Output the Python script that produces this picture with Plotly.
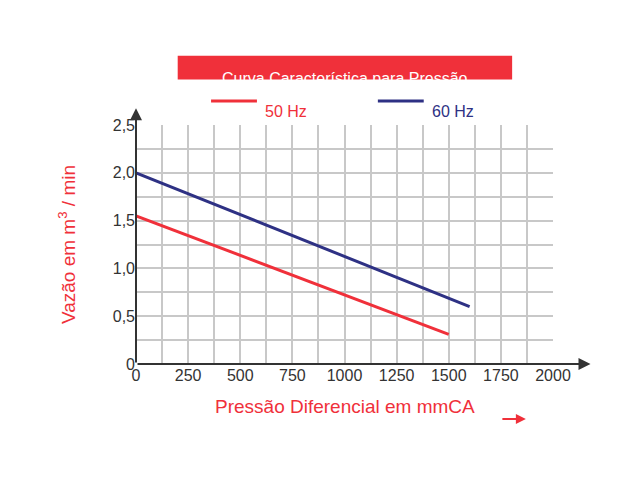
import plotly.graph_objects as go

x50 = [0, 1500]
y50 = [1.55, 0.31]
x60 = [0, 1600]
y60 = [2.0, 0.6]
xticks = [0, 250, 500, 750, 1000, 1250, 1500, 1750, 2000]
yticks = [0, 0.5, 1.0, 1.5, 2.0, 2.5]
ylabels = ["0", "0,5", "1,0", "1,5", "2,0", "2,5"]

RED = "#f0303a"
BLUE = "#2e3184"

fig = go.Figure()
fig.add_trace(go.Scatter(x=x50, y=y50, mode="lines", line=dict(color=RED, width=3), name="50 Hz"))
fig.add_trace(go.Scatter(x=x60, y=y60, mode="lines", line=dict(color=BLUE, width=3), name="60 Hz"))

grid = "#c8c8c8"
fig.update_layout(
    width=640, height=480, paper_bgcolor="white", plot_bgcolor="white",
    margin=dict(l=128, r=95, t=117, b=124),
    font=dict(family="Liberation Sans, Arial", size=16, color="#333"),
    showlegend=False,
    xaxis=dict(range=[0, 2000], tickvals=xticks, ticktext=[str(v) for v in xticks],
               showgrid=False, zeroline=False, showline=False, ticks="",
               minor=dict(dtick=125, showgrid=True, gridcolor=grid, gridwidth=1.5)),
    yaxis=dict(range=[0, 2.5], tickvals=yticks, ticktext=ylabels,
               showgrid=False, zeroline=False, showline=False, ticks="",
               minor=dict(dtick=0.25, showgrid=True, gridcolor=grid, gridwidth=1.5)),
)
D = dict(xref="x domain", yref="y domain", axref="x domain", ayref="y domain", showarrow=True, text="")
fig.add_annotation(x=1.09, y=0, ax=0, ay=0, arrowhead=2, arrowsize=1.2, arrowwidth=2, arrowcolor="#333", **D)
fig.add_annotation(x=0, y=1.07, ax=0, ay=0, arrowhead=2, arrowsize=1.2, arrowwidth=2, arrowcolor="#333", **D)
fig.add_annotation(x=0.935, y=-0.23, ax=0.875, ay=-0.23, arrowhead=2, arrowwidth=2, arrowcolor=RED, **D)
# title box
fig.add_shape(type="rect", xref="paper", yref="paper", x0=0.1, x1=0.902, y0=1.19, y1=1.29,
              fillcolor=RED, line=dict(width=0), layer="above")
fig.add_annotation(x=0.5, y=1.24, xref="paper", yref="paper", text="Curva Característica para Pressão",
                   showarrow=False, font=dict(color="white", size=16))
# legend
fig.add_shape(type="line", xref="paper", yref="paper", x0=0.18, x1=0.29, y0=1.1, y1=1.1,
              line=dict(color=RED, width=3))
fig.add_annotation(x=0.305, y=1.1, xref="paper", yref="paper", text="50 Hz", xanchor="left",
                   showarrow=False, font=dict(color=RED, size=16))
fig.add_shape(type="line", xref="paper", yref="paper", x0=0.58, x1=0.69, y0=1.1, y1=1.1,
              line=dict(color=BLUE, width=3))
fig.add_annotation(x=0.705, y=1.1, xref="paper", yref="paper", text="60 Hz", xanchor="left",
                   showarrow=False, font=dict(color=BLUE, size=16))
# axis titles
fig.add_annotation(x=0.5, y=-0.23, xref="paper", yref="paper", text="Pressão Diferencial em mmCA",
                   showarrow=False, font=dict(color=RED, size=19))
fig.add_annotation(x=-0.2, y=0.5, xref="paper", yref="paper", text="Vazão em m<sup>3</sup> / min",
                   textangle=-90, showarrow=False, font=dict(color=RED, size=19))
fig.write_html("out.html")
